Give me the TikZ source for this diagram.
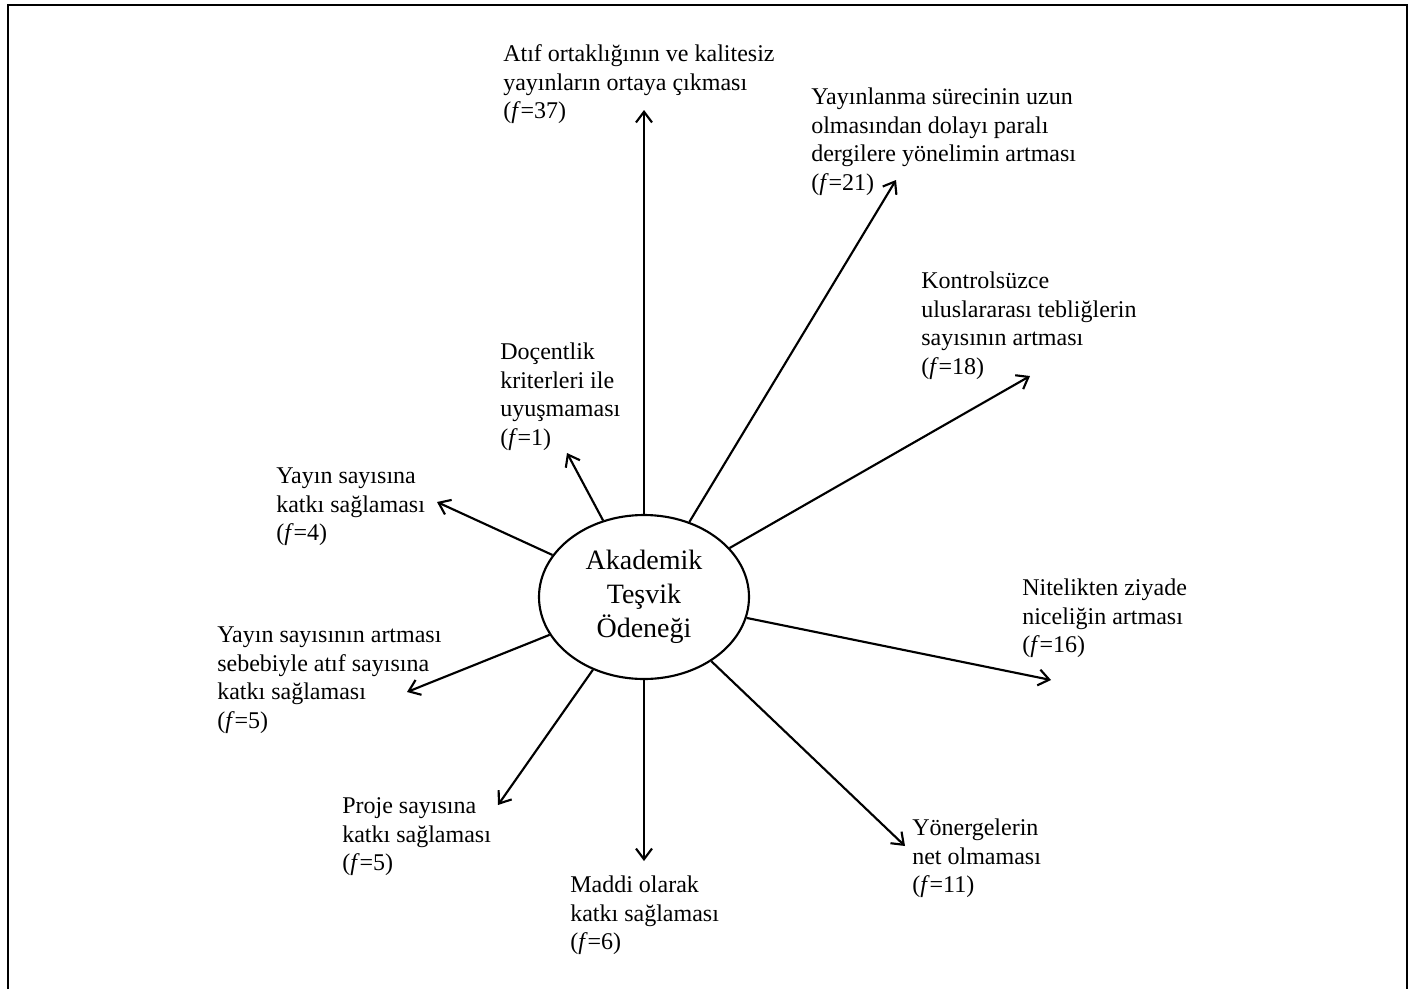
\documentclass[tikz,border=0pt]{standalone}
\usepackage{fontspec}
\setmainfont{Liberation Serif}
\usetikzlibrary{shapes.geometric,arrows.meta}
\begin{document}
\begin{tikzpicture}[x=0.75pt,y=-0.75pt,
  lbl/.style={anchor=north west,inner sep=0pt,align=left,font=\fontsize{18}{21.5}\selectfont},
  arr/.style={line width=1.6pt,-{Straight Barb[length=8pt,width=12pt]}},
  frame/.style={line width=1.6pt},
  center/.style={draw,ellipse,line width=1.6pt,minimum width=157.5pt,minimum height=123pt,inner sep=0pt,align=center,font=\fontsize{21}{25.5}\selectfont}]
\useasboundingbox (0,0) rectangle (1410,989);
\draw[frame] (8,989) -- (8,5) -- (1407,5) -- (1407,989);

\node[center] (E) at (644,597) {Akademik\\Teşvik\\Ödeneği};

\node[lbl] (l1) at (503,41) {\strut Atıf ortaklığının ve kalitesiz\\yayınların ortaya çıkması\\(\textit{f}=37)};
\node[lbl] (l2) at (811,84) {\strut Yayınlanma sürecinin uzun\\olmasından dolayı paralı\\dergilere yönelimin artması\\(\textit{f}=21)};
\node[lbl] (l3) at (921,268) {\strut Kontrolsüzce\\uluslararası tebliğlerin\\sayısının artması\\(\textit{f}=18)};
\node[lbl] (l4) at (500,339) {\strut Doçentlik\\kriterleri ile\\uyuşmaması\\(\textit{f}=1)};
\node[lbl] (l5) at (276,463) {\strut Yayın sayısına\\katkı sağlaması\\(\textit{f}=4)};
\node[lbl] (l6) at (1022,575) {\strut Nitelikten ziyade\\niceliğin artması\\(\textit{f}=16)};
\node[lbl] (l7) at (217,622) {\strut Yayın sayısının artması\\sebebiyle atıf sayısına\\katkı sağlaması\\(\textit{f}=5)};
\node[lbl] (l8) at (342,793) {\strut Proje sayısına\\katkı sağlaması\\(\textit{f}=5)};
\node[lbl] (l9) at (570,872) {\strut Maddi olarak\\katkı sağlaması\\(\textit{f}=6)};
\node[lbl] (l10) at (912,815) {\strut Yönergelerin\\net olmaması\\(\textit{f}=11)};

\coordinate (t1) at (644,110);
\coordinate (t2) at (896,180);
\coordinate (t3) at (1030,376);
\coordinate (t4) at (567,453);
\coordinate (t5) at (437,502);
\coordinate (t6) at (1051,680);
\coordinate (t7) at (407,692);
\coordinate (t8) at (498,805);
\coordinate (t9) at (644,861);
\coordinate (t10) at (905,846);

\foreach \t in {t1,t2,t3,t4,t5,t6,t7,t8,t9,t10}
  \draw[arr] (E) -- (\t);
\end{tikzpicture}
\end{document}
